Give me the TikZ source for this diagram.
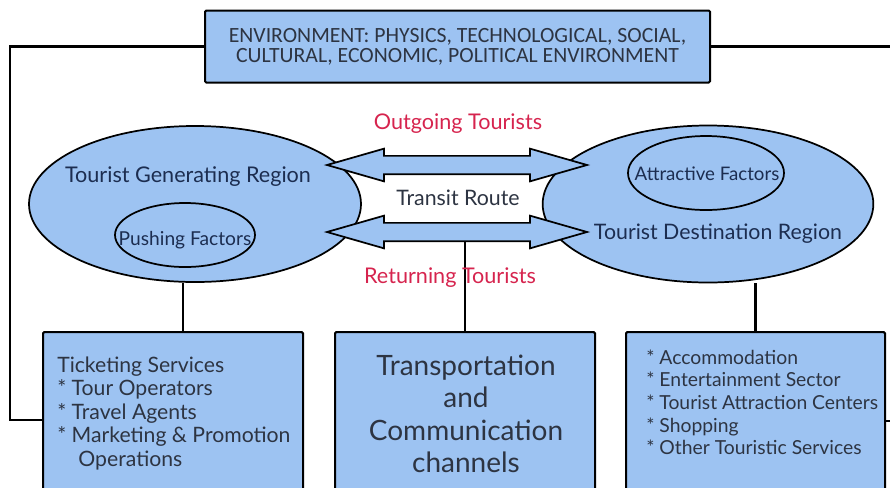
\documentclass[tikz,border=0pt]{standalone}
\usepackage{fontspec}
\setmainfont{Lato}
\newfontfamily\capsfont{Carlito}
\usetikzlibrary{
    shapes.geometric,
    shapes.arrows,
    backgrounds
}
\definecolor{panelblue}{RGB}{157,195,242}
\definecolor{inkblue}{RGB}{28,45,80}
\definecolor{inkgray}{RGB}{45,52,66}
\definecolor{flowred}{RGB}{214,36,78}
\tikzset{
  every node/.style={
    inner sep=0pt
  },
  panel/.style={draw=black, fill=panelblue, rounded corners=1pt, line width=1.5pt},
  region/.style={draw=black, fill=panelblue, ellipse, line width=1.3pt},
  factor/.style={draw=black, ellipse, line width=1.3pt},
  flow/.style={draw=black, fill=panelblue, double arrow, double arrow head extend=5.4pt,
    double arrow tip angle=32, minimum height=195pt, inner xsep=0pt, inner ysep=6.2pt,
    line width=1.3pt},
  regiontext/.style={text=inkblue, anchor=base},
  flowtext/.style={text=flowred, anchor=base, font=\fontsize{16.2}{18}\selectfont},
  frame/.style={line width=2.2pt},
  link/.style={line width=1.8pt}
}

\begin{document}
\begin{tikzpicture}[x=0.75pt,y=-0.75pt]

    \path[use as bounding box] (0,0) rectangle (890,487);
    \clip (0,0) rectangle (890,487);

    %-------------------------
    % environment box and frame
    %-------------------------
    \node[panel, minimum width=378.75pt, minimum height=54pt, text=inkgray, align=center,
      font=\capsfont\fontsize{16.3}{15}\selectfont] (env) at (457.5,46.5)
      {ENVIRONMENT: PHYSICS, TECHNOLOGICAL, SOCIAL,\\CULTURAL, ECONOMIC, POLITICAL ENVIRONMENT};

    \coordinate (ftl) at (10,46.5);
    \coordinate (fbl) at (10,420);
    \coordinate (ftr) at (900,46.5);
    \coordinate (fbr) at (900,421);

    %-------------------------
    % regions
    %-------------------------
    \node[region, minimum width=249pt, minimum height=117pt] (genreg) at (195,204) {};
    \node[region, minimum width=248pt, minimum height=117.75pt] (desreg) at (708,204) {};
    \node[factor, minimum width=105pt, minimum height=48pt] (push) at (185,235) {};
    \node[factor, minimum width=117pt, minimum height=55.5pt] (attract) at (706,173) {};

    \node[regiontext, font=\fontsize{16.2}{18}\selectfont] (genlbl) at (188,182) {Tourist Generating Region};
    \node[regiontext, font=\fontsize{14.4}{16}\selectfont] (pushlbl) at (185,245) {Pushing Factors};
    \node[regiontext, font=\fontsize{14}{16}\selectfont] (attractlbl) at (707,180) {Attractive Factors};
    \node[regiontext, font=\fontsize{16}{18}\selectfont] (deslbl) at (718,239) {Tourist Destination Region};

    %-------------------------
    % transit route
    %-------------------------
    \node[flow] (outflow) at (457,165) {};
    \node[flow] (retflow) at (457,232) {};
    \node[anchor=base, text=inkgray, font=\fontsize{16}{18}\selectfont] (transit) at (458,205) {Transit Route};
    \node[flowtext] (outlbl) at (458,129) {Outgoing Tourists};
    \node[flowtext] (retlbl) at (450,283) {Returning Tourists};

    %-------------------------
    % service boxes
    %-------------------------
    \node[panel, minimum width=195pt, minimum height=122.25pt] (ticket) at (173,413.5) {};
    \node[panel, minimum width=195pt, minimum height=122.25pt] (transport) at (465,413.5) {};
    \node[panel, minimum width=194.25pt, minimum height=122.25pt] (svc) at (755.5,413.5) {};

    \node[anchor=north west, align=left, text=inkgray, font=\fontsize{15.9}{17.6}\selectfont] (ticketlist) at (57,356.3)
      {Ticketing Services\\* Tour Operators\\* Travel Agents\\* Marketing \& Promotion\\\hspace*{1em}Operations};
    \node[anchor=north, align=center, text=inkgray, font=\fontsize{21}{24.2}\selectfont] (transportlbl) at (466,354.7)
      {Transportation\\and\\Communication\\channels};
    \node[anchor=north west, align=left, text=inkgray, font=\fontsize{14.5}{17}\selectfont] (svclist) at (646,349.3)
      {* Accommodation\\* Entertainment Sector\\* Tourist Attraction Centers\\* Shopping\\* Other Touristic Services};

    %-------------------------
    % connectors
    %-------------------------
    \draw[frame] (env.west) -- (ftl) -- (fbl) -- (fbl -| ticket.west);
    \draw[frame] (env.east) -- (ftr);
    \draw[frame] (fbr -| svc.east) -- (fbr);

    \begin{scope}[on background layer]
      \draw[link] ([xshift=-9pt]genreg.south) -- ([xshift=-9pt]genreg.south |- ticket.north);
      \draw[link] (transport.north |- retflow.south) -- (transport.north);
      \draw[link] (svc.north |- desreg.south) -- (svc.north);
    \end{scope}

\end{tikzpicture}
\end{document}
